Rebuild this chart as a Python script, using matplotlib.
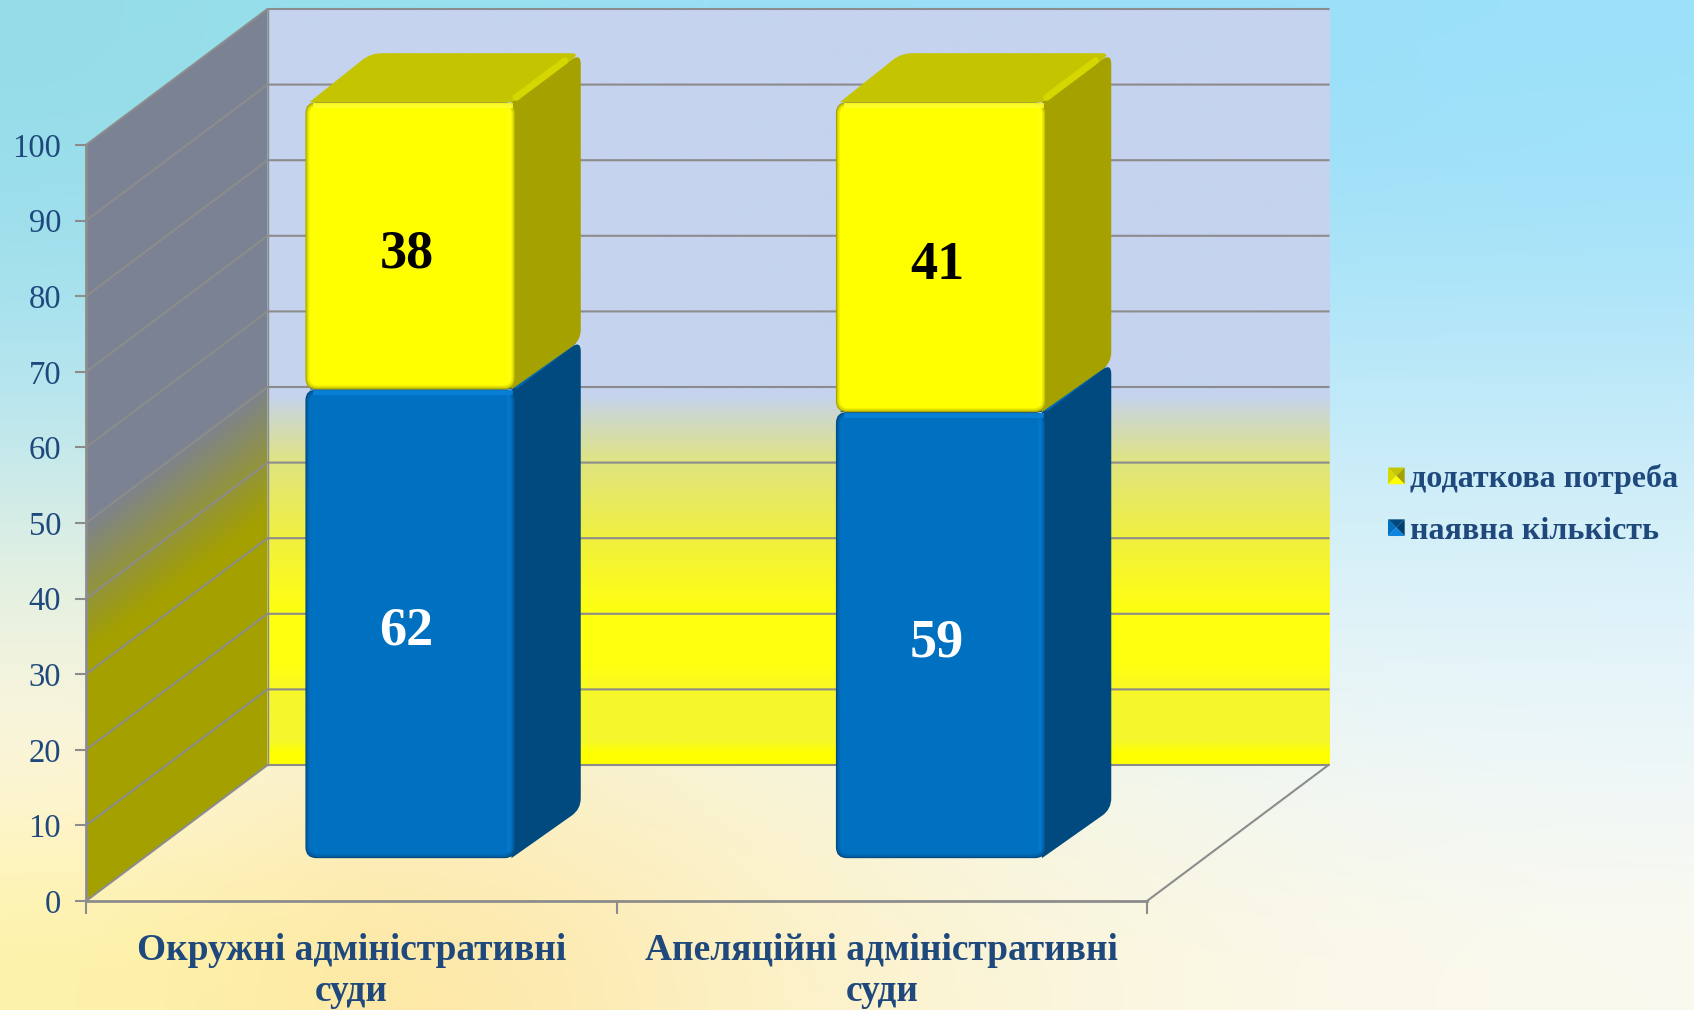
import numpy as np
import matplotlib
matplotlib.use("Agg")
import matplotlib.pyplot as plt
from matplotlib.colors import to_rgb
from matplotlib.legend_handler import HandlerBase
from matplotlib.patches import FancyBboxPatch, PathPatch, Patch, Polygon
from matplotlib.path import Path

categories = ["Окружні адміністративні\nсуди", "Апеляційні адміністративні\nсуди"]
available = [62, 59]
extra = [38, 41]
available_name = "наявна кількість"
extra_name = "додаткова потреба"
y_ticks = list(range(0, 101, 10))

W, H = 1694, 1010
X0, X1, Y0, Y100 = 86, 1147, 901, 145
PX = (X1 - X0) / 2
PY = (Y0 - Y100) / 100
DX = 181.5 / PX   # depth of the box in data units
DY = 136 / PY
BAR_W = 210 / PX
BAR_SHIFT = 2 / PX
BAR_D0 = 0.315
BAR_D = 0.36

TEXT = "#1F497D"
GRID = "#8C8C8C"
YELLOW = dict(front="#FFFF00", edge="#A8A400", side="#A5A100", top="#C4C400", ridge="#D6D600", light="#FFFF30",
              mark=["#D8D800", "#C4C400", "#A5A100", "#FFFF00"])
BLUE = dict(front="#0070C0", edge="#004A80", side="#004A7F", top="#005F9F", ridge="#0068B0", light="#0A84DC",
            mark=["#0070C0", "#004A7F", "#003F6E", "#0A84DC"])

plt.rcParams["font.family"] = ["Liberation Serif", "DejaVu Serif"]

fig = plt.figure(figsize=(W / 100, H / 100), dpi=100)

# slide background
bg = fig.add_axes([0, 0, 1, 1], zorder=-1)
bg_colors = [
    ["#95DCE8", "#97E2EE", "#9ADEF5", "#9ADFF8", "#9ADEF8", "#9CE2FA"],
    ["#9FE0EC", "#A4E3F0", "#A6E3F6", "#A6E3F8", "#A8E3F8", "#A8E3F9"],
    ["#BCE6F0", "#BCE8F2", "#C0EAF6", "#C2EAF8", "#C4EBF8", "#C5EBF9"],
    ["#E8F2DE", "#E8F2E4", "#E4F2EC", "#DFF2F4", "#DCF2F8", "#DDF2F9"],
    ["#FEF6E0", "#FCF2C8", "#FBF4D4", "#F6F6E4", "#F0F7F4", "#EEF7FA"],
    ["#FEF3A8", "#FDE4A0", "#FDF0C0", "#FBF5D8", "#FBF8E6", "#FBFAEF"],
]
bg.imshow(np.array([[to_rgb(c) for c in row] for row in bg_colors]), aspect="auto", interpolation="bicubic")
bg.axis("off")

ax = fig.add_axes([X0 / W, 1 - Y0 / H, (X1 - X0) / W, (Y0 - Y100) / H], facecolor="none")


def proj(x, v, d):
    return x + d * DX, v + d * DY


def rounded_path(verts, radii):
    pts = [np.array([x * PX, y * PY]) for x, y in verts]
    n = len(pts)
    codes, out = [], []
    for i, p in enumerate(pts):
        a = pts[i - 1] - p
        b = pts[(i + 1) % n] - p
        r = radii[i]
        pa = p + a / np.linalg.norm(a) * min(r, np.linalg.norm(a) / 2)
        pb = p + b / np.linalg.norm(b) * min(r, np.linalg.norm(b) / 2)
        codes += [Path.MOVETO if i == 0 else Path.LINETO, Path.CURVE3, Path.CURVE3]
        out += [pa, p, pb]
    codes.append(Path.CLOSEPOLY)
    out.append(out[0])
    out = np.array(out) / np.array([PX, PY])
    return Path(out, codes)


def blend(c1, c2, t):
    a, b = np.array(to_rgb(c1)), np.array(to_rgb(c2))
    return tuple(a + (b - a) * t)


def draw_bar(center, v0, v1, st, z):
    xl, xr = center + BAR_SHIFT - BAR_W / 2, center + BAR_SHIFT + BAR_W / 2
    d0, d1 = BAR_D0, BAR_D0 + BAR_D
    in_x = 4 / PX
    side = [proj(xr - in_x, v0, d0), proj(xr, v0, d1), proj(xr, v1, d1), proj(xr - in_x, v1, d0)]
    top = [proj(xl + in_x, v1, d0), proj(xl, v1, d1), proj(xr, v1, d1), proj(xr - in_x, v1, d0)]
    ax.add_patch(PathPatch(rounded_path(side, [0, 11, 11, 0]), fc=st["side"], ec="none", zorder=z, clip_on=False))
    ax.add_patch(PathPatch(rounded_path(top, [0, 11, 11, 0]), fc=st["top"], ec="none", zorder=z, clip_on=False))

    # lighter ridge between top and side
    a = proj(xr - 3 / PX, v1 + 2 / PY, d0 + 0.02)
    b = proj(xr - 3 / PX, v1 + 2 / PY, d1 - 0.07)
    ax.plot([a[0], b[0]], [a[1], b[1]], color=st["ridge"], lw=5, zorder=z + 0.1, clip_on=False,
            solid_capstyle="round")

    # front face, a stack of insets gives the soft bevel
    fx, fy = proj(xl, v0, d0)
    fw, fh = BAR_W, v1 - v0
    steps = 5
    for i in range(steps):
        ins = i * 1.0
        ax.add_patch(FancyBboxPatch(
            (fx + ins / PX, fy + ins / PY), fw - 2 * ins / PX, fh - 2 * ins / PY,
            boxstyle=f"round,pad=0,rounding_size={(11 - ins * 0.6) / PX}",
            mutation_aspect=PX / PY, fc=blend(st["edge"], st["front"], (i / (steps - 1)) ** 0.6),
            ec="none", zorder=z + 0.2 + i * 0.01, clip_on=False))
    # highlights on the top and right borders
    ax.plot([fx + 10 / PX, fx + fw - 5 / PX], [fy + fh - 3 / PY] * 2, color=st["light"], lw=3.5,
            zorder=z + 0.3, clip_on=False, alpha=0.85)
    ax.plot([fx + fw - 6 / PX] * 2, [fy + 8 / PY, fy + fh - 4 / PY], color=st["light"], lw=3,
            zorder=z + 0.3, clip_on=False, alpha=0.3)


# back wall
wall_v = np.array([0, 0.015, 0.03, 0.09, 0.13, 0.2, 0.30, 0.40, 0.49, 1.0])
wall_c = ["#FFFF00", "#FFFF00", "#F6F62C", "#F6F62C", "#FFFF10", "#FFFF10", "#F0F040", "#E0E480", "#C5D3EF", "#C5D3EF"]
wall_img = np.array([[np.interp(t, wall_v, [to_rgb(c)[k] for c in wall_c]) for k in range(3)]
                     for t in np.linspace(1, 0, 256)])[:, None, :]
ax.imshow(wall_img, extent=[DX, 2 + DX, DY, 100 + DY], aspect="auto", zorder=0, clip_on=False)

# side wall, the colour follows the value along the slant
grey, olive = np.array(to_rgb("#7B8294")), np.array(to_rgb("#A3A000"))
dd, yy = np.meshgrid(np.linspace(0, 1, 64), np.linspace(100 + DY, 0, 256))
t = np.clip(((yy - dd * DY) - 33) / 18, 0, 1)[..., None]
side_img = olive + (grey - olive) * t
im = ax.imshow(side_img, extent=[0, DX, 0, 100 + DY], aspect="auto", zorder=0.5)
clip = Polygon([(0, 0), (DX, DY), (DX, 100 + DY), (0, 100)], transform=ax.transData, fc="none", ec="none",
               clip_on=False)
ax.add_patch(clip)
im.set_clip_box(fig.bbox)
im.set_clip_path(clip)

# grid on both walls and the floor edges
for v in y_ticks:
    ax.plot([0, DX, 2 + DX], [v, v + DY, v + DY], color=GRID, lw=1.5, zorder=1, clip_on=False)
ax.plot([DX, DX], [DY, 100 + DY], color=GRID, lw=1.0, zorder=1, clip_on=False)
ax.plot([2, 2 + DX], [0, DY], color=GRID, lw=1.5, zorder=1, clip_on=False)

# bars
centers = np.arange(len(categories)) + 0.5
for c, a, e in zip(centers, available, extra):
    draw_bar(c, 0, a, BLUE, 3)
    draw_bar(c, a, a + e, YELLOW, 4)
    lx, _ = proj(c, 0, BAR_D0)
    ax.text(lx - 2 / PX, proj(c, a / 2, BAR_D0)[1] - 8 / PY, str(a), ha="center", va="center", color="white",
            fontsize=39, fontweight="bold", zorder=6)
    ax.text(lx - 2 / PX, proj(c, a + e / 2, BAR_D0)[1] - 9 / PY, str(e), ha="center", va="center", color="black",
            fontsize=39, fontweight="bold", zorder=6)

ax.set_xlim(0, 2)
ax.set_ylim(0, 100)
ax.set_yticks(y_ticks)
ax.set_xticks([0, 1, 2])
ax.set_xticklabels([])
ax.set_xticks(centers, minor=True)
ax.set_xticklabels(categories, minor=True, fontsize=26.9, fontweight="bold", color=TEXT, linespacing=1.24)
ax.tick_params(axis="x", which="minor", length=0, pad=23)
ax.tick_params(axis="x", which="major", length=9, width=1.5, color=GRID)
ax.tick_params(axis="y", length=8, width=1.5, color=GRID, labelsize=23.5, labelcolor=TEXT, pad=10)
for name in ["top", "right"]:
    ax.spines[name].set_visible(False)
for name in ["left", "bottom"]:
    ax.spines[name].set_color(GRID)
    ax.spines[name].set_linewidth(2)
    ax.spines[name].set_zorder(2)


class PyramidHandler(HandlerBase):
    def __init__(self, st):
        super().__init__()
        self.st = st

    def create_artists(self, legend, orig, xd, yd, width, height, fontsize, trans):
        s = min(width, height * 1.2)
        x, y = -xd, -yd + (height - s) / 2
        m = (x + s / 2, y + s / 2)
        cs = self.st["mark"]
        tri = [
            ([(x, y), (x, y + s), m], cs[0]),
            ([(x, y + s), (x + s, y + s), m], cs[1]),
            ([(x + s, y + s), (x + s, y), m], cs[2]),
            ([(x, y), (x + s, y), m], cs[3]),
        ]
        return [Polygon(p, closed=True, fc=c, ec="none", transform=trans) for p, c in tri]


h_extra = Patch(label=extra_name)
h_avail = Patch(label=available_name)
ax.legend(handles=[h_extra, h_avail], handler_map={h_extra: PyramidHandler(YELLOW), h_avail: PyramidHandler(BLUE)},
          loc="center left", bbox_to_anchor=(1388 / W, 1 - 505 / H), bbox_transform=fig.transFigure,
          frameon=False, prop={"size": 23.1, "weight": "bold"}, labelcolor=TEXT,
          handlelength=0.52, handleheight=0.72, handletextpad=0.18, labelspacing=0.69, borderpad=0, borderaxespad=0)

fig.savefig("out.png", dpi=100)
